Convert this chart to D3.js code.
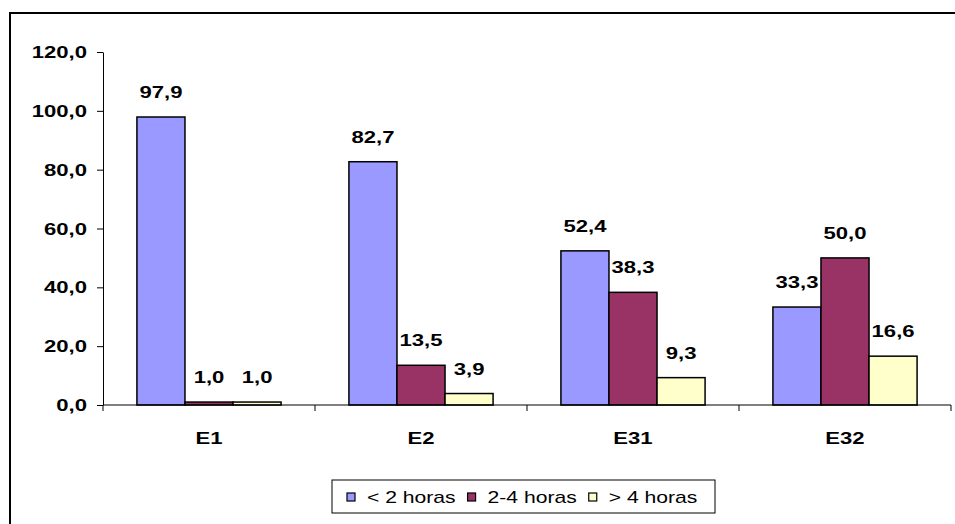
<!DOCTYPE html>
<html>
<head>
<meta charset="utf-8">
<script src="https://cdn.jsdelivr.net/npm/d3@7"></script>
<style>
  body { margin: 0; background: #fff; }
  text { font-family: "Liberation Sans", Arial, sans-serif; }
</style>
</head>
<body>
<script>
// data
const categories = ["E1", "E2", "E31", "E32"];
const seriesNames = ["< 2 horas", "2-4 horas", "> 4 horas"];
const seriesColors = ["#9999ff", "#993366", "#ffffcc"];
const lessThan2 = [97.9, 82.7, 52.4, 33.3];
const from2to4 = [1.0, 13.5, 38.3, 50.0];
const moreThan4 = [1.0, 3.9, 9.3, 16.6];
const yTicks = [0, 20, 40, 60, 80, 100, 120];

const seriesValues = [lessThan2, from2to4, moreThan4];

const W = 955, H = 524;
const margin = { top: 52, right: 4, bottom: 119, left: 103 };
const width = W - margin.left - margin.right,
    height = H - margin.top - margin.bottom;
const SX = 1.3; // the original text is drawn wide

const svg = d3.select("body").append("svg")
    .attr("width", W)
    .attr("height", H);

// outer frame (runs off the right/bottom edge)
svg.append("rect")
    .attr("x", 10).attr("y", 13)
    .attr("width", 1000).attr("height", 600)
    .attr("fill", "none")
    .attr("stroke", "#000")
    .attr("stroke-width", 2);

const g = svg.append("g")
    .attr("transform", "translate(" + margin.left + "," + margin.top + ")");

const x = d3.scaleBand()
    .domain(categories)
    .range([0, width])
    .paddingInner(0)
    .paddingOuter(0);

const inner = d3.scaleBand()
    .domain(d3.range(seriesNames.length))
    .range([x.bandwidth() * 0.16, x.bandwidth() * 0.84]);

const y = d3.scaleLinear()
    .domain([0, 120])
    .range([height, 0]);

const fmt = v => d3.format(".1f")(v).replace(".", ",");

function wideText(sel, tx, ty, sx) {
    return sel.attr("transform", (d, i) =>
        "translate(" + tx(d, i) + "," + ty(d, i) + ") scale(" + sx + ",1)");
}

// y axis
const yAxis = g.append("g")
    .call(d3.axisLeft(y).tickValues(yTicks).tickFormat("").tickSize(6).tickSizeOuter(0));
yAxis.select(".domain").attr("stroke", "#000");
yAxis.selectAll(".tick line").attr("stroke", "#000");

g.append("g").selectAll("text")
    .data(yTicks)
    .enter().append("text")
    .call(wideText, () => -16, d => y(d) + 6, SX)
    .attr("text-anchor", "end")
    .style("font-size", "17px")
    .style("font-weight", "bold")
    .text(fmt);

// bars
const groups = g.selectAll("g.cat")
    .data(categories)
    .enter().append("g")
    .attr("class", "cat")
    .attr("transform", d => "translate(" + x(d) + ",0)");

groups.selectAll("rect")
    .data((c, ci) => seriesValues.map((vals, si) => ({ si: si, v: vals[ci] })))
    .enter().append("rect")
    .attr("x", d => inner(d.si))
    .attr("width", inner.bandwidth())
    .attr("y", d => y(d.v))
    .attr("height", d => y(0) - y(d.v))
    .attr("fill", d => seriesColors[d.si])
    .attr("stroke", "#000")
    .attr("stroke-width", 1.5);

groups.selectAll("text.val")
    .data((c, ci) => seriesValues.map((vals, si) => ({ si: si, v: vals[ci] })))
    .enter().append("text")
    .attr("class", "val")
    .call(wideText, d => inner(d.si) + inner.bandwidth() / 2, d => y(d.v) - 19, SX)
    .attr("text-anchor", "middle")
    .style("font-size", "17px")
    .style("font-weight", "bold")
    .text(d => fmt(d.v));

// x axis
const xAxis = g.append("g")
    .attr("transform", "translate(0," + height + ")");
xAxis.append("line")
    .attr("x1", 0).attr("x2", width)
    .attr("stroke", "#000").attr("stroke-width", 1);
xAxis.selectAll("line.tick")
    .data(categories.concat(["end"]))
    .enter().append("line")
    .attr("class", "tick")
    .attr("x1", (d, i) => i * x.step())
    .attr("x2", (d, i) => i * x.step())
    .attr("y1", 0).attr("y2", 6)
    .attr("stroke", "#000");
xAxis.selectAll("text")
    .data(categories)
    .enter().append("text")
    .call(wideText, d => x(d) + x.bandwidth() / 2, () => 39, SX)
    .attr("text-anchor", "middle")
    .style("font-size", "17px")
    .style("font-weight", "bold")
    .text(d => d);

// legend
const legend = svg.append("g").attr("transform", "translate(332,480)");
legend.append("rect")
    .attr("width", 383).attr("height", 33)
    .attr("fill", "#fff")
    .attr("stroke", "#000").attr("stroke-width", 1);

let lx = 15;
seriesNames.forEach((name, i) => {
    legend.append("rect")
        .attr("x", lx).attr("y", 13)
        .attr("width", 8).attr("height", 8)
        .attr("fill", seriesColors[i])
        .attr("stroke", "#000").attr("stroke-width", 1.2);
    const t = legend.append("text")
        .datum(name)
        .call(wideText, () => lx + 20, () => 23, 1.32)
        .style("font-size", "16px")
        .text(name);
    lx += 20 + t.node().getComputedTextLength() * 1.32 + 12;
});
</script>
</body>
</html>
